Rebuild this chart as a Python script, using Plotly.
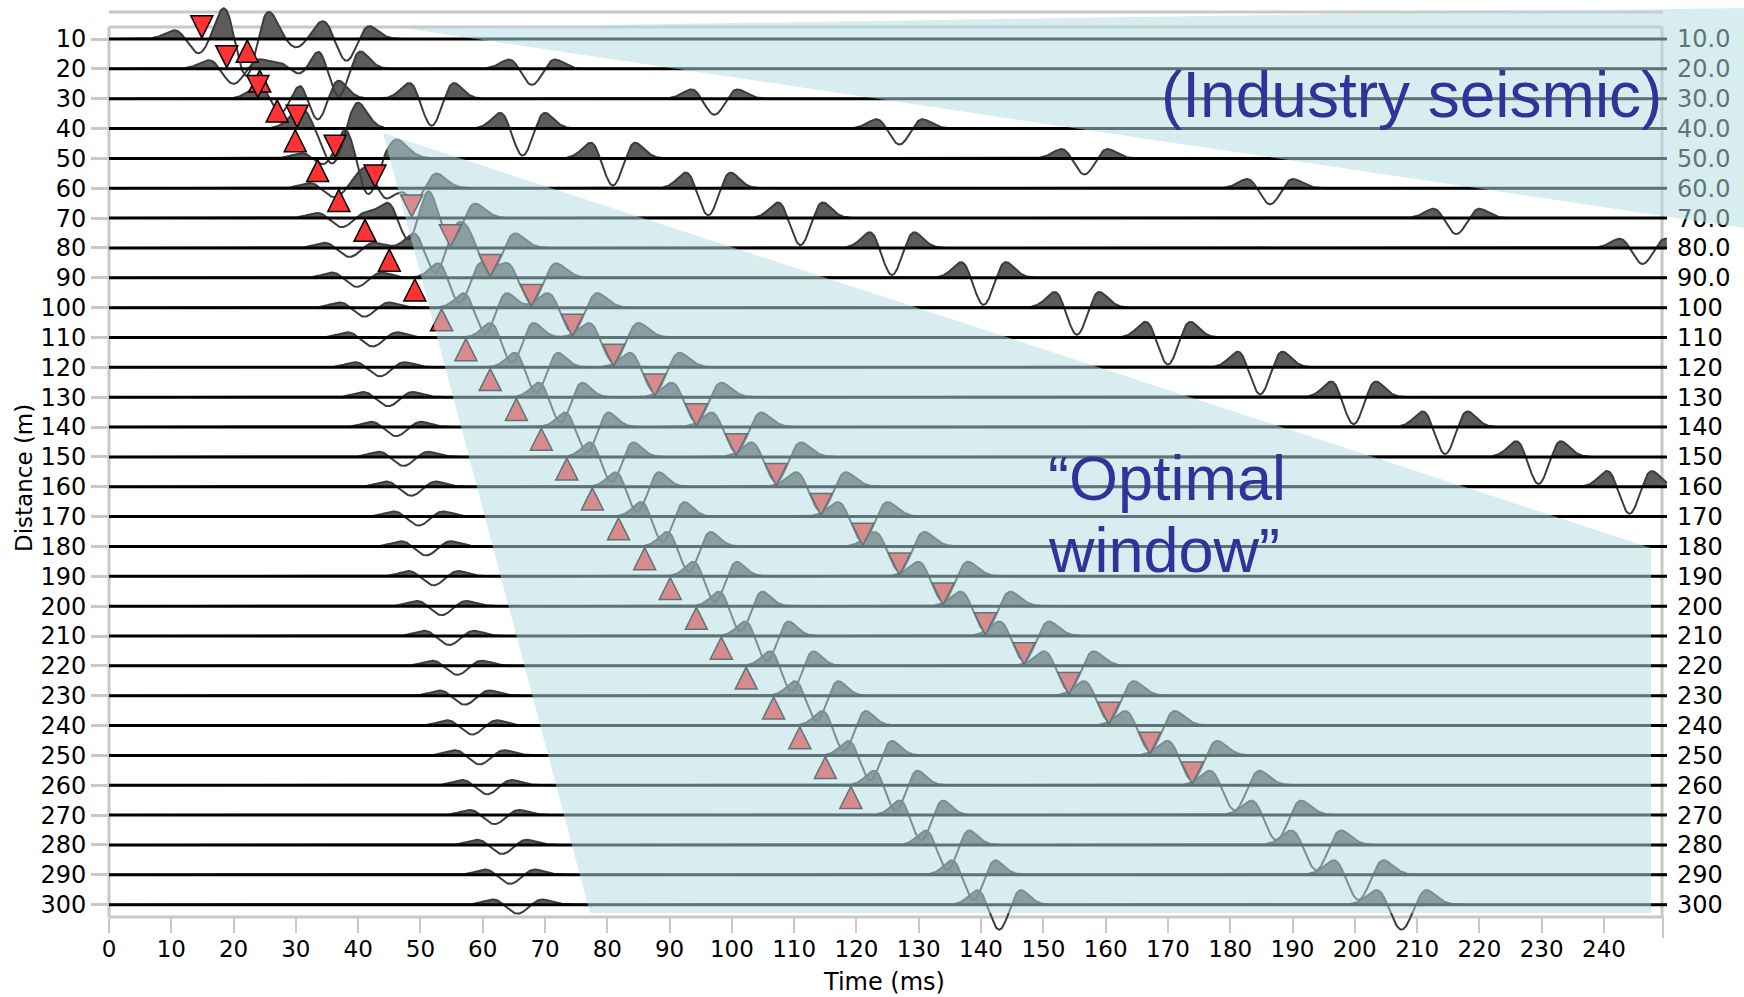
import numpy as np
import plotly.graph_objects as go

# ------------------------------------------------------------------ data
DIST = [10, 20, 30, 40, 50, 60, 70, 80, 90, 100, 110, 120, 130, 140, 150,
        160, 170, 180, 190, 200, 210, 220, 230, 240, 250, 260, 270, 280, 290, 300]
LEFT_LABELS = ["10", "20", "30", "40", "50", "60", "70", "80", "90", "100",
               "110", "120", "130", "140", "150", "160", "170", "180", "190", "200",
               "210", "220", "230", "240", "250", "260", "270", "280", "290", "300"]
RIGHT_LABELS = ["10.0", "20.0", "30.0", "40.0", "50.0", "60.0", "70.0", "80.0", "90.0", "100",
                "110", "120", "130", "140", "150", "160", "170", "180", "190", "200",
                "210", "220", "230", "240", "250", "260", "270", "280", "290", "300"]
TIME_TICKS = [0, 10, 20, 30, 40, 50, 60, 70, 80, 90, 100, 110, 120, 130, 140, 150,
              160, 170, 180, 190, 200, 210, 220, 230, 240]

# trough times (ms) of each event on each trace (None = not present)
REFR_T = [30.0, 31.2, 32.5, 33.7, 34.9, 36.2, 37.4, 38.6, 39.8, 41.0, 42.3, 43.5, 44.8, 46.1, 47.3,
          48.5, 49.7, 50.9, 52.1, 53.4, 54.6, 55.9, 57.1, 58.3, 59.5, 60.7, 61.9, 63.1, 64.4, 65.6]
REFR_AMP = [9, 9, 9, 9, 9, 9, 9, 9, 9, 9, 9, 9, 9, 9, 9,
            9, 9, 9, 9, 9, 9, 9, 9, 9, 9, 9, 9, 9, 9, 9]

SURF1_T = [22.0, 36.8, 51.8, 66.4, 80.9, 96.2, 111.0, 125.7, 140.4, 155.4, 170.0, 184.8, 199.8, 214.5, 229.5,
           244.1, None, None, None, None, None, None, None, None, None, None, None, None, None, None]
SURF1_AMP = [38, 30, 27, 27, 27, 27, 27, 27, 27, 27, 27, 27, 27, 27, 27,
             27, 0, 0, 0, 0, 0, 0, 0, 0, 0, 0, 0, 0, 0, 0]

SURF2_T = [38.1, 67.9, 97.2, 126.9, 156.6, 186.4, 216.3, 246.2, None, None, None, None, None, None, None,
           None, None, None, None, None, None, None, None, None, None, None, None, None, None, None]
SURF2_AMP = [22, 16, 16, 16, 16, 16, 16, 16, 0, 0, 0, 0, 0, 0, 0,
             0, 0, 0, 0, 0, 0, 0, 0, 0, 0, 0, 0, 0, 0, 0]

REFL1_T = [None, None, 33.5, 37.0, 40.8, 44.6, 48.2, 52.4, 56.3, 60.4, 64.7, 68.6, 72.5, 76.7, 80.7,
           84.8, 88.9, 93.1, 97.3, 101.4, 105.6, 109.6, 113.6, 118.0, 122.2, 126.3, 130.4, 134.6, 138.8, 142.9]
REFL1_AMP = [0, 0, 22, 24, 25, 25, 25, 25, 25, 25, 25, 25, 25, 25, 25,
             25, 25, 25, 25, 25, 25, 25, 25, 25, 25, 25, 25, 25, 25, 25]

REFL2_T = [14.5, 20.0, 28.0, 35.0, 42.7, 48.6, 54.8, 61.2, 67.8, 74.4, 81.0, 87.6, 94.3, 100.7, 107.1,
           114.3, 121.0, 126.9, 133.9, 140.7, 146.9, 154.1, 160.5, 167.1, 173.9, 180.7, 187.4, 193.8, 200.6, 207.5]
REFL2_AMP = [15, 15, 22, 25, 25, 25, 25, 25, 25, 25, 25, 25, 25, 25, 25,
             25, 25, 25, 25, 25, 25, 25, 25, 25, 25, 25, 25, 25, 25, 25]

# picks
UP_PICK_D = [20, 30, 40, 50, 60, 70, 80, 90, 100, 110, 120, 130, 140, 150, 160,
             170, 180, 190, 200, 210, 220, 230, 240, 250, 260, 270]
UP_PICK_T = [22.2, 24.2, 27.0, 29.9, 33.5, 36.9, 41.1, 45.0, 49.1, 53.4, 57.3, 61.2, 65.4, 69.4, 73.5,
             77.6, 81.8, 86.0, 90.1, 94.3, 98.3, 102.3, 106.7, 110.9, 115.0, 119.1]
DOWN_PICK_D = [10, 20, 30, 40, 50, 60, 70, 80, 90, 100, 110, 120, 130, 140, 150,
               160, 170, 180, 190, 200, 210, 220, 230, 240, 250, 260]
DOWN_PICK_T = [14.9, 18.9, 23.9, 30.2, 36.3, 42.7, 48.6, 54.8, 61.2, 67.8, 74.4, 81.0, 87.6, 94.3, 100.7,
               107.1, 114.3, 121.0, 126.9, 133.9, 140.7, 146.9, 154.1, 160.5, 167.1, 173.9]

# wavelet style: peak frequency (1/ms) per event, side-lobe gain
REFR_F, SURF1_F, SURF2_F, REFL1_F, REFL2_F = 0.0975, 0.108, 0.105, 0.111, 0.097
LOBE_GAIN = 1.3

EVENTS = [
    (REFR_T, REFR_AMP, REFR_F),
    (SURF1_T, SURF1_AMP, SURF1_F),
    (SURF2_T, SURF2_AMP, SURF2_F),
    (REFL1_T, REFL1_AMP, REFL1_F),
    (REFL2_T, REFL2_AMP, REFL2_F),
]

# ------------------------------------------------------------------ geometry (pixels)
W, H = 1744, 997
PL, PR, PT, PB = 109, 1667, 3, 940
PW, PH = PR - PL, PB - PT
PX_PER_MS = 6.229
PX_PER_M = 2.985
Y10_PX = 39
X_MAX = PW / PX_PER_MS
Y_TOP = 10 - (Y10_PX - PT) / PX_PER_M
Y_BOT = 10 + (PB - Y10_PX) / PX_PER_M


def xp(px):
    return (px - PL) / PW


def yp(py):
    return (PB - py) / PH


def wavelet(t, t0, f):
    a = (np.pi * f * (t - t0)) ** 2
    r = (1 - 2 * a) * np.exp(-a)
    return np.where(r < 0, r * LOBE_GAIN, r)


t = np.arange(0, X_MAX + 0.05, 0.1)

fill_x, fill_y, wig_x, wig_y, base_x, base_y = [], [], [], [], [], []
for i, d in enumerate(DIST):
    w = np.zeros_like(t)
    for times, amps, f in EVENTS:
        t0 = times[i]
        if t0 is None:
            continue
        w += -amps[i] * wavelet(t, t0, f)
    pos = np.clip(w, 0, None) / PX_PER_M
    fill_x += list(t) + list(t[::-1]) + [None]
    fill_y += list(d - pos) + [d] * len(t) + [None]
    wig_x += list(t) + [None]
    wig_y += list(d - w / PX_PER_M) + [None]
    base_x += [0, X_MAX, None]
    base_y += [d, d, None]

fig = go.Figure()
fig.add_trace(go.Scatter(x=fill_x, y=fill_y, mode="lines", fill="toself",
                         fillcolor="rgb(92,92,92)", line=dict(width=0),
                         hoverinfo="skip", showlegend=False))
fig.add_trace(go.Scatter(x=wig_x, y=wig_y, mode="lines",
                         line=dict(color="rgb(60,60,60)", width=2),
                         hoverinfo="skip", showlegend=False))
fig.add_trace(go.Scatter(x=base_x, y=base_y, mode="lines",
                         line=dict(color="black", width=3),
                         hoverinfo="skip", showlegend=False))
# picks: up arrows have apex on the trace above, down arrows tip on their trace
fig.add_trace(go.Scatter(x=UP_PICK_T, y=[d - 9.6 for d in UP_PICK_D], mode="markers",
                         marker=dict(symbol="arrow-up", size=22, color="#FF3333",
                                     line=dict(color="black", width=1.5)),
                         hoverinfo="skip", showlegend=False))
fig.add_trace(go.Scatter(x=DOWN_PICK_T, y=[d - 0.4 for d in DOWN_PICK_D], mode="markers",
                         marker=dict(symbol="arrow-down", size=22, color="#FF3333",
                                     line=dict(color="black", width=1.5)),
                         hoverinfo="skip", showlegend=False))
# invisible trace for the right axis
fig.add_trace(go.Scatter(x=[0] * len(DIST), y=DIST, yaxis="y2", mode="markers",
                         marker=dict(opacity=0), hoverinfo="skip", showlegend=False))

GRAY = "#C8C8C8"
shapes = []


def pline(x0, y0, x1, y1, width=3, color=GRAY):
    shapes.append(dict(type="line", xref="paper", yref="paper", x0=xp(x0), y0=yp(y0),
                       x1=xp(x1), y1=yp(y1), line=dict(color=color, width=width), layer="below"))


pline(109, 27, 109, 917)
pline(109, 27, 1662, 27)
pline(1662, 27, 1662, 917)
pline(109, 917, 1662, 917)
pline(109, 12, 1663, 12)
pline(1663, 917, 1663, 938, width=2)


def poly(pts):
    s = "M " + " L ".join(f"{xp(a):.5f},{yp(b):.5f}" for a, b in pts) + " Z"
    shapes.append(dict(type="path", xref="paper", yref="paper", path=s,
                       fillcolor="rgba(180,220,224,0.52)", line=dict(width=0), layer="above"))


poly([(403, 28), (1744, 8), (1744, 228)])
poly([(383, 133), (1651, 548), (1651, 913), (590, 913)])

BLUE = "#32329A"
ann = [
    dict(text="(Industry seismic)", x=xp(1664), y=yp(95), xanchor="right", yanchor="middle",
         font=dict(family="Liberation Sans", size=64, color=BLUE)),
    dict(text="\u201cOptimal", x=xp(1046), y=yp(478), xanchor="left", yanchor="middle",
         font=dict(family="Liberation Sans", size=63, color=BLUE)),
    dict(text="window\u201d", x=xp(1046), y=yp(550), xanchor="left", yanchor="middle",
         font=dict(family="Liberation Sans", size=63, color=BLUE)),
    dict(text="Time (ms)", x=xp(884), y=yp(982), xanchor="center", yanchor="middle",
         font=dict(family="DejaVu Sans", size=24, color="black")),
    dict(text="Distance (m)", x=xp(24), y=yp(478), xanchor="center", yanchor="middle",
         textangle=-90, font=dict(family="DejaVu Sans", size=23, color="black")),
]
for a in ann:
    a.update(xref="paper", yref="paper", showarrow=False)

fig.update_layout(
    width=W, height=H, autosize=False,
    margin=dict(l=PL, r=W - PR, t=PT, b=H - PB, pad=0),
    paper_bgcolor="white", plot_bgcolor="rgba(0,0,0,0)",
    shapes=shapes, annotations=ann, showlegend=False,
    xaxis=dict(range=[0, X_MAX], anchor="free", position=yp(917),
               tickvals=TIME_TICKS, ticktext=[str(v) for v in TIME_TICKS],
               ticks="outside", ticklen=15, tickwidth=2, tickcolor=GRAY,
               ticklabelstandoff=-4,
               showline=False, showgrid=False, zeroline=False,
               tickfont=dict(family="DejaVu Sans", size=23, color="black")),
    yaxis=dict(range=[Y_BOT, Y_TOP], tickvals=DIST, ticktext=LEFT_LABELS,
               ticks="outside", ticklen=17, tickwidth=2.5, tickcolor=GRAY,
               showline=False, showgrid=False, zeroline=False,
               tickfont=dict(family="DejaVu Sans", size=24, color="black")),
    yaxis2=dict(range=[Y_BOT, Y_TOP], overlaying="y", side="right", anchor="x",
                tickvals=DIST, ticktext=RIGHT_LABELS, ticks="", ticklabelstandoff=9,
                showline=False, showgrid=False, zeroline=False,
                tickfont=dict(family="DejaVu Sans", size=24, color="black")),
)

fig.write_html("out.html")
